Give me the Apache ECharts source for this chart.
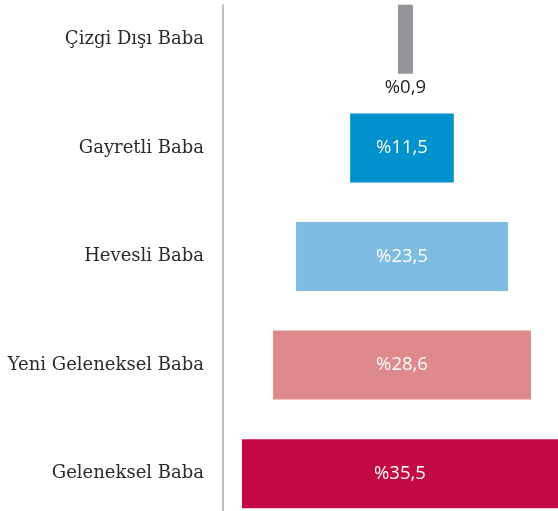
<!DOCTYPE html>
<html>
<head>
<meta charset="utf-8">
<script src="https://cdn.jsdelivr.net/npm/echarts@6/dist/echarts.min.js"></script>
<style>html,body{margin:0;padding:0;background:#fff}#c{width:558px;height:511px}</style>
</head>
<body>
<div id="c"></div>
<script>
const categories = ['Çizgi Dışı Baba', 'Gayretli Baba', 'Hevesli Baba', 'Yeni Geleneksel Baba', 'Geleneksel Baba'];
const values = [0.9, 11.5, 23.5, 28.6, 35.5];
const colors = ['#939598', '#0092cc', '#7fbce2', '#de898c', '#c30a45'];
const center = 19.85;

const offsets = values.map(v => center - v / 2);
const chart = echarts.init(document.getElementById('c'));
chart.setOption({
  animation: false,
  grid: [
    { left: 223, right: 0, top: -15, bottom: -17, containLabel: false, outerBoundsMode: 'none' },
    { left: 223, right: 0, top: 5, bottom: 0, containLabel: false, outerBoundsMode: 'none' }
  ],
  xAxis: [
    { gridIndex: 0, type: 'value', min: 0, max: 37.15, show: false },
    { gridIndex: 1, type: 'value', min: 0, max: 1, show: false }
  ],
  yAxis: [
    {
      gridIndex: 0, type: 'category', inverse: true, data: categories,
      axisLine: { show: false }, axisTick: { show: false },
      axisLabel: { color: '#2a2a2a', fontFamily: 'DejaVu Serif', fontSize: 18, margin: 19 }
    },
    {
      gridIndex: 1, type: 'category', data: categories,
      axisLine: { show: true, lineStyle: { color: '#aaaaaa', width: 1.5 } },
      axisTick: { show: false }, axisLabel: { show: false }
    }
  ],
  series: [
    {
      type: 'bar', stack: 's', xAxisIndex: 0, yAxisIndex: 0,
      data: offsets, itemStyle: { color: 'transparent' }, silent: true, barWidth: 69
    },
    {
      type: 'bar', stack: 's', xAxisIndex: 0, yAxisIndex: 0, barWidth: 69, barMinHeight: 15,
      data: values.map((v, i) => ({
        value: v,
        itemStyle: { color: colors[i] },
        label: i === 0 ? { position: 'bottom', color: '#222', distance: 4 } : {}
      })),
      label: {
        show: true, position: 'inside', color: '#fff',
        fontFamily: 'Open Sans', fontSize: 18.5,
        formatter: p => '%' + String(p.value).replace('.', ',')
      }
    }
  ]
});
</script>
</body>
</html>
